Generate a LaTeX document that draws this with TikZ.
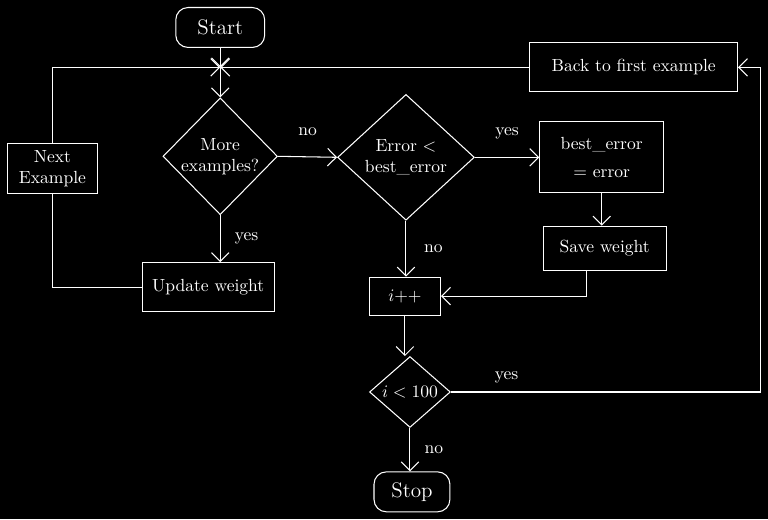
\documentclass[tikz,border=0pt]{standalone}
\usepackage{amsmath}
\usetikzlibrary{arrows.meta,shapes.geometric}

\begin{document}
\begin{tikzpicture}[x=0.02cm, y=-0.02cm, >={Straight Barb[length=5pt]},
    every path/.style={draw=white, line width=0.6pt},
    every node/.style={text=white, align=center, inner sep=0pt},
    term/.style={draw, rounded corners=7pt},
    proc/.style={draw},
    decide/.style={draw, diamond, aspect=1},
    lbl/.style={font=\normalsize}]
          % background
          \fill[black] (0,0) rectangle (768,519);

          % nodes
          \node[term, minimum width=1.78cm, minimum height=0.8cm] (start) at (220,27) {\large Start};
          \coordinate (join) at (220,67);
          \node[decide, minimum width=2.1cm, minimum height=2.34cm] (more) at (220,156) {More\\examples?};
          \node[decide, minimum width=2.74cm, minimum height=2.52cm] (err) at (406,157) {Error $<$\\best\_error};
          \node[proc, minimum width=2.48cm, minimum height=1.42cm] (best) at (602,157) {best\_error\\[4pt]$=$ error};
          \node[proc, minimum width=2.46cm, minimum height=0.88cm] (save) at (605,248) {Save weight};
          \node[proc, minimum width=4.16cm, minimum height=0.98cm] (back) at (634,67) {Back to first example};
          \node[proc, minimum width=1.8cm, minimum height=1.0cm] (next) at (52,168) {Next\\Example};
          \node[proc, minimum width=2.64cm, minimum height=0.98cm] (update) at (208,287) {Update weight};
          \node[proc, minimum width=1.42cm, minimum height=0.76cm] (ipp) at (405,296) {$i{+}{+}$};
          \node[decide, minimum width=1.62cm, minimum height=1.42cm] (test) at (410,392) {$i<100$};
          \node[term, minimum width=1.52cm, minimum height=0.8cm] (stop) at (412,492) {\large Stop};
          \coordinate (rc) at (761,395);

          % main flow
          \draw[->] (start) -- (join);
          \draw[->] (join) -- (more.north);
          \draw[->] (more.east) -- (err.west) node[lbl, midway, above=12pt] {no};
          \draw[->] (err.east) -- (best.west) node[lbl, midway, above=10pt] {yes};
          \draw[->] (best.south) -- (best.south |- save.north);
          \draw[->] ([xshift=-0.36cm]save.south) |- (ipp.east);
          \draw[->] (err.south) -- (err.south |- ipp.north) node[lbl, midway, right=10pt] {no};
          \draw[->] (ipp.south) -- (ipp.south |- test.north);
          \draw[->] (test.south) -- (test.south |- stop.north) node[lbl, midway, right=8pt] {no};

          % loops back to the top
          \draw[->] (more.south) -- (more.south |- update.north) node[lbl, midway, right=8pt] {yes};
          \draw (update.west) -| (next.south);
          \draw[->] (next.north) |- (join);
          \draw[->] (back.west) -- (join);
          \draw[->] (test.east) -- (test.east -| rc) node[lbl, pos=0.18, above=5pt] {yes}
            |- (back.east);
        \end{tikzpicture}
\end{document}
